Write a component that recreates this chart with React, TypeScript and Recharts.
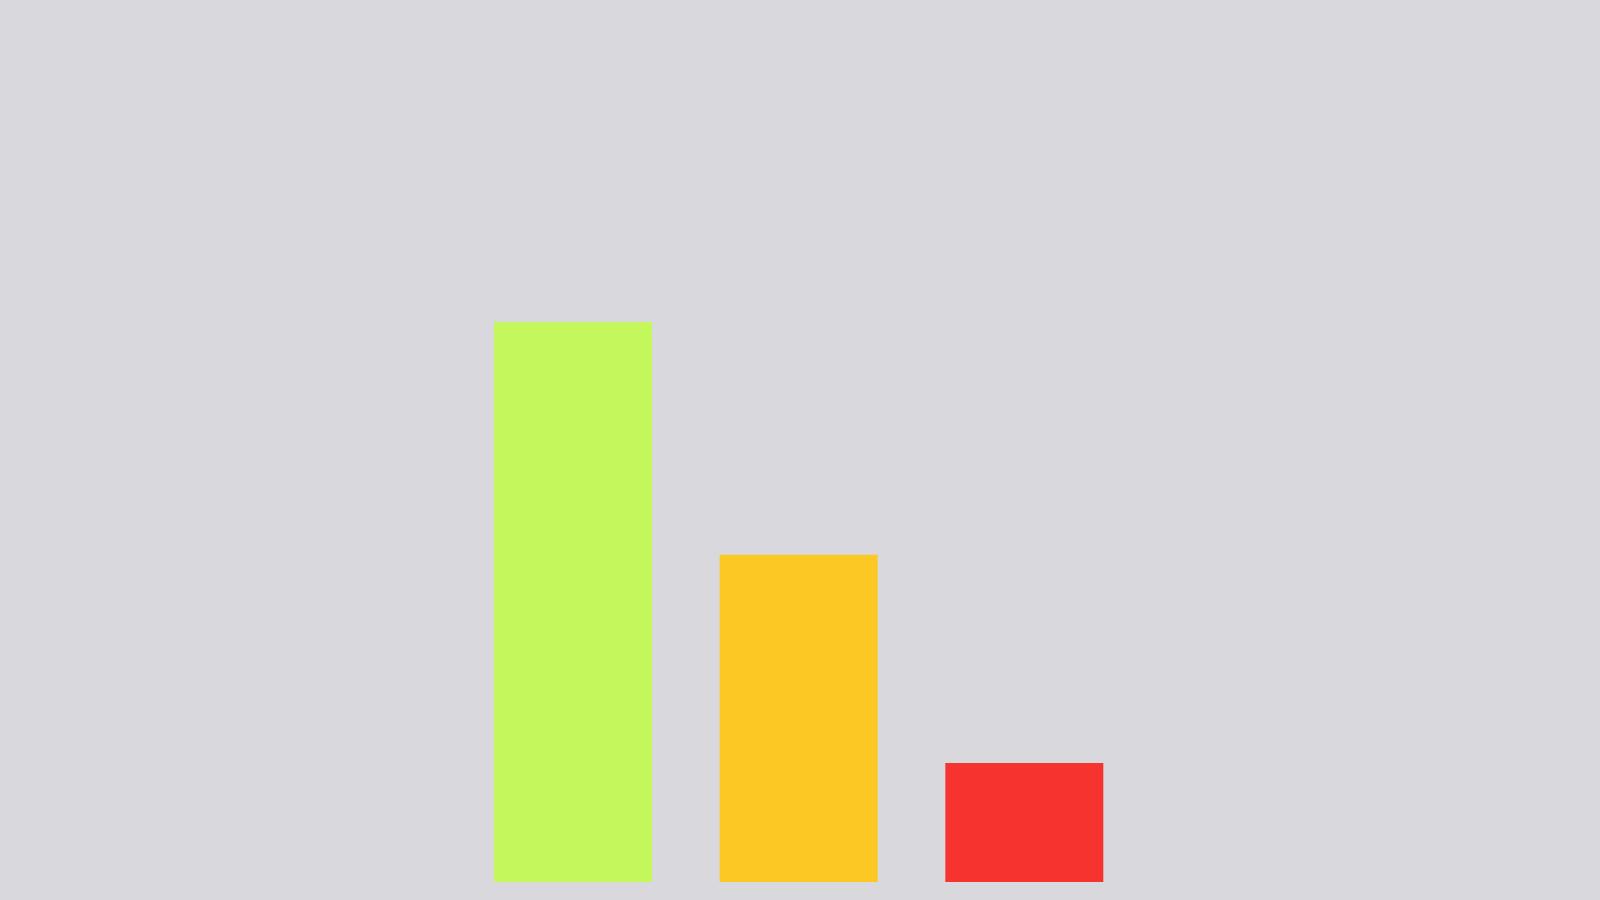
import React from "react";
import { BarChart, Bar, XAxis, YAxis, Cell } from "recharts";

const categories = ["High", "Medium", "Low"];
const values = [63.5, 37.1, 13.5];
const colors = ["#c4f75c", "#fbc824", "#f6332e"];

const data = categories.map((name, i) => ({ name, value: values[i] }));

export default function App() {
  return (
    <div
      style={{
        position: "fixed",
        left: 0,
        top: 0,
        width: 1600,
        height: 900,
        background: "#d9d8dd",
        overflow: "hidden",
      }}
    >
      <BarChart
        width={1600}
        height={900}
        data={data}
        margin={{ top: 0, right: 463, bottom: 18, left: 460 }}
        barCategoryGap={0}
      >
        <XAxis dataKey="name" hide />
        <YAxis hide domain={[0, 100]} />
        <Bar dataKey="value" barSize={158} isAnimationActive={false}>
          {data.map((d, i) => (
            <Cell key={d.name} fill={colors[i]} />
          ))}
        </Bar>
      </BarChart>
    </div>
  );
}
